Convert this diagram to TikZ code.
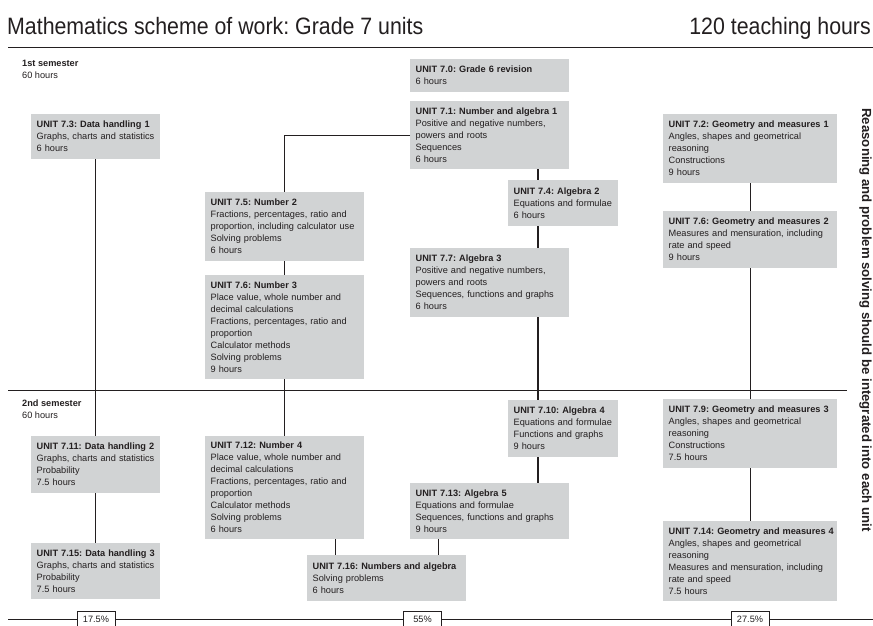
\documentclass[tikz,border=0pt]{standalone}
\usepackage{fontspec}
\setmainfont{Liberation Sans}
\newfontfamily\titlefont[FakeStretch=0.9]{Liberation Sans}
\definecolor{boxgray}{HTML}{D1D3D4}
\definecolor{ink}{HTML}{231F20}
\frenchspacing
\newcommand\unithead[1]{\mbox{\bfseries #1}}

\begin{document}
\begin{tikzpicture}[x=1pt,y=-1pt,
    unit/.style={fill=boxgray,text=ink,anchor=north west,align=left,inner xsep=5.5pt,inner ysep=0pt,font=\fontsize{9.2}{12}\selectfont},
    colA/.style={text width=118pt},
    colB/.style={text width=148pt},
    colS/.style={text width=99pt},
    colD/.style={text width=163pt},
    link/.style={draw=ink,line width=1.2pt},
    rule/.style={draw=ink,line width=0.9pt},
    pct/.style={draw=ink,line width=0.8pt,fill=white,text=ink,minimum width=38pt,minimum height=16pt,inner sep=0pt,font=\fontsize{9.2}{11}\selectfont},
    sem/.style={anchor=north west,inner sep=0pt,align=left,text=ink,font=\fontsize{9.2}{12}\selectfont}]
    \useasboundingbox (0,0) rectangle (873,625);

    % heading
    \node[anchor=base west,inner sep=0pt,text=ink,font=\titlefont\fontsize{23.7}{28}\selectfont] (title) at (7,34) {Mathematics scheme of work: Grade 7 units};
    \node[anchor=base east,inner sep=0pt,text=ink,font=\titlefont\fontsize{23.7}{28}\selectfont] (total) at (871,34) {120 teaching hours};
    \node[rotate=-90,anchor=base,inner sep=0pt,text=ink,font=\bfseries\fontsize{13.2}{15}\selectfont] (note) at (862,320) {Reasoning and problem solving should be integrated into each unit};

    % rules
    \coordinate (topL) at (8,47.5);
    \coordinate (topR) at (873,47.5);
    \coordinate (semL) at (8,390);
    \coordinate (semR) at (847,390);
    \coordinate (botL) at (8,619);
    \coordinate (botR) at (873,619);
    \node[pct] (p1) at (96,619) {17.5\%};
    \node[pct] (p2) at (422.5,619) {55\%};
    \node[pct] (p3) at (750,619) {27.5\%};
    \draw [rule] (topL) -- (topR);
    \draw [rule] (semL) -- (semR);
    \draw [rule] (botL) -- (p1) -- (p2) -- (p3) -- (botR);

    \node[sem] (s1) at (22,59.5) {\textbf{1st semester}\\60 hours};
    \node[sem] (s2) at (22,400) {\textbf{2nd semester}\\60 hours};

    % 1st semester
    \node[unit,colB,minimum height=33pt] (n70) at (410,59) {\unithead{UNIT 7.0: Grade 6 revision}\\6 hours};
    \node[unit,colB,minimum height=68pt] (n71) at (410,101) {\unithead{UNIT 7.1: Number and algebra 1}\\Positive and negative numbers,\\powers and roots\\Sequences\\6 hours};
    \node[unit,colA,minimum height=45pt] (n73) at (31,114) {\unithead{UNIT 7.3: Data handling 1}\\Graphs, charts and statistics\\6 hours};
    \node[unit,colD,minimum height=69pt] (n72) at (663,114) {\unithead{UNIT 7.2: Geometry and measures 1}\\Angles, shapes and geometrical\\reasoning\\Constructions\\9 hours};
    \node[unit,colS,minimum height=46pt] (n74) at (508,180) {\unithead{UNIT 7.4: Algebra 2}\\Equations and formulae\\6 hours};
    \node[unit,colB,minimum height=69pt] (n75) at (205,192) {\unithead{UNIT 7.5: Number 2}\\Fractions, percentages, ratio and\\proportion, including calculator use\\Solving problems\\6 hours};
    \node[unit,colD,minimum height=57pt] (n76g) at (663,211) {\unithead{UNIT 7.6: Geometry and measures 2}\\Measures and mensuration, including\\rate and speed\\9 hours};
    \node[unit,colB,minimum height=69pt] (n77) at (410,248) {\unithead{UNIT 7.7: Algebra 3}\\Positive and negative numbers,\\powers and roots\\Sequences, functions and graphs\\6 hours};
    \node[unit,colB,minimum height=104pt] (n76n) at (205,275) {\unithead{UNIT 7.6: Number 3}\\Place value, whole number and\\decimal calculations\\Fractions, percentages, ratio and\\proportion\\Calculator methods\\Solving problems\\9 hours};

    % 2nd semester
    \node[unit,colD,minimum height=69pt] (n79) at (663,399) {\unithead{UNIT 7.9: Geometry and measures 3}\\Angles, shapes and geometrical\\reasoning\\Constructions\\7.5 hours};
    \node[unit,colS,minimum height=57pt] (n710) at (508,400) {\unithead{UNIT 7.10: Algebra 4}\\Equations and formulae\\Functions and graphs\\9 hours};
    \node[unit,colA,minimum height=57pt] (n711) at (31,436) {\unithead{UNIT 7.11: Data handling 2}\\Graphs, charts and statistics\\Probability\\7.5 hours};
    \node[unit,colB,minimum height=103pt] (n712) at (205,436) {\unithead{UNIT 7.12: Number 4}\\Place value, whole number and\\decimal calculations\\Fractions, percentages, ratio and\\proportion\\Calculator methods\\Solving problems\\6 hours};
    \node[unit,colB,minimum height=56pt] (n713) at (410,483) {\unithead{UNIT 7.13: Algebra 5}\\Equations and formulae\\Sequences, functions and graphs\\9 hours};
    \node[unit,colD,minimum height=80pt] (n714) at (663,521) {\unithead{UNIT 7.14: Geometry and measures 4}\\Angles, shapes and geometrical\\reasoning\\Measures and mensuration, including\\rate and speed\\7.5 hours};
    \node[unit,colA,minimum height=56pt] (n715) at (31,543) {\unithead{UNIT 7.15: Data handling 3}\\Graphs, charts and statistics\\Probability\\7.5 hours};
    \node[unit,colB,minimum height=46pt] (n716) at (307,555) {\unithead{UNIT 7.16: Numbers and algebra}\\Solving problems\\6 hours};

    % links
    \coordinate (cC) at (538,0);
    \coordinate (j12) at ([xshift=-51pt]n716.north);
    \coordinate (j13) at ([xshift=51.5pt]n716.north);

    \path [link] (n73) edge (n711);
    \path [link] (n711) edge (n715);
    \draw [link] (n71.west) -| (n75.north);
    \path [link] (n75) edge (n76n);
    \path [link] (n76n) edge (n712);
    \draw [link] (n712.south -| j12) -- (j12);
    \draw [link] (n71.south -| cC) -- (n74.north -| cC);
    \draw [link] (n74.south -| cC) -- (n77.north -| cC);
    \draw [link] (n77.south -| cC) -- (n710.north -| cC);
    \draw [link] (n710.south -| cC) -- (n713.north -| cC);
    \draw [link] (n713.south -| j13) -- (j13);
    \path [link] (n72) edge (n76g);
    \path [link] (n76g) edge (n79);
    \path [link] (n79) edge (n714);
\end{tikzpicture}
\end{document}
